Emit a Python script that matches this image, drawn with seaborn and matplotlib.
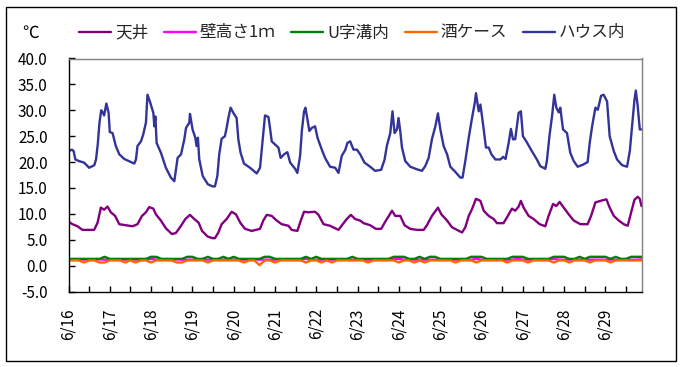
import matplotlib
matplotlib.use("Agg")
import matplotlib.pyplot as plt
import seaborn as sns
import pandas as pd
from matplotlib.patches import Rectangle
from matplotlib.ticker import FixedLocator, FuncFormatter

sns.set_theme(style="white")
plt.rcParams['font.family'] = ['Noto Sans CJK JP', 'DejaVu Sans']
plt.rcParams['axes.unicode_minus'] = False

# ---------------- data ----------------
SERIES_NAMES = ["天井", "壁高さ1ｍ", "U字溝内", "酒ケース", "ハウス内"]
SERIES_COLORS = ["#800080", "#FF00FF", "#008000", "#FF6600", "#333399"]
DAY_LABELS = ["6/16", "6/17", "6/18", "6/19", "6/20", "6/21", "6/22",
              "6/23", "6/24", "6/25", "6/26", "6/27", "6/28", "6/29"]

# ハウス内 (hours since 6/16 0:00, °C)
house_hours = [0, 2, 3, 4, 6, 9, 12, 15, 16, 17, 18, 19, 20, 20.7, 22, 23.3, 24, 25.6, 27.5, 29.5,
               32.4, 36.3, 38.2, 39.2, 40.1, 42.1, 43.4, 45, 45.9, 47.3, 49.3, 49.9, 50.5, 51.2, 53.7, 56.6,
               59.5, 61.5, 63.4, 65.4, 67.3, 68.3, 70.2, 70.6, 72.1, 73.7, 74.4, 75.2, 76, 78, 81, 83.8,
               85.1, 86.5, 87.6, 89, 90.9, 91.9, 92.9, 94.2, 95.8, 97.7, 98.7, 100, 102, 105.5, 109.4, 111.3,
               112.9, 114.2, 116.2, 117.1, 118.1, 120, 122, 123.3, 125.3, 127.2, 128.8, 131.7, 133, 134.6,
               135.6, 136.9, 137.7, 138.9, 140, 141.4, 143.3, 144.7, 147.2, 149.1, 152, 155, 156.9, 158.8,
               160.8, 162.1, 163.7, 165.6, 167.6, 169.5, 172, 175.3, 178.2, 181.7, 183.7, 185, 187, 188.3,
               189.5, 190.9, 191.8, 192.8, 193.8, 195.7, 198.6, 202.5, 205.4, 207.3, 209.3, 211.2, 213.2,
               214.7, 216.1, 218, 220, 221.9, 224.8, 227.7, 229, 230.6, 232.6, 234.5, 236.1, 236.8, 238.4,
               239.4, 241.3, 242.6, 244.2, 245.8, 248.1, 251, 252.6, 254, 255.8, 257.1, 258.3, 259.6, 261.6,
               262.9, 264.1, 266.4, 269.3, 272.2, 274.2, 277.1, 278, 279.6, 281, 282.3, 283.5, 284.9, 285.8,
               287.4, 289.7, 291.6, 293.6, 295.9, 299, 301.7, 302.9, 304.3, 306.2, 307.6, 309.5, 311, 313,
               314.5, 316.9, 318.8, 321.7, 324.6, 326.2, 327.5, 328.9, 329.7, 330.8, 332, 333]
house_temp = [22.1, 22.4, 22.1, 20.5, 20.2, 19.9, 18.9, 19.4, 20.5, 23.4, 27.6, 30.0, 29.5, 29.0, 31.3, 29.5, 25.8, 25.6, 23.1, 21.5,
              20.6, 20.0, 19.7, 20.5, 23.1, 24.0, 25.3, 27.6, 33.0, 31.7, 29.5, 26.9, 28.8, 23.7, 21.8, 18.9,
              17.0, 16.3, 20.8, 21.5, 24.4, 26.6, 27.6, 29.3, 26.3, 24.7, 23.1, 24.7, 20.5, 17.3, 15.7, 15.3,
              15.3, 17.3, 21.5, 24.5, 25.0, 26.6, 28.5, 30.5, 29.5, 28.5, 24.4, 21.8, 19.7, 18.9, 17.8, 18.9,
              24.4, 29.0, 28.7, 26.6, 24.0, 23.4, 22.8, 20.8, 21.5, 21.9, 19.9, 18.7, 17.9, 21.2,
              26.0, 29.8, 30.5, 28.2, 26.0, 26.6, 26.9, 24.7, 22.4, 20.8, 19.1, 18.9, 17.9, 21.2,
              22.3, 23.7, 24.0, 22.4, 22.4, 21.5, 19.9, 19.1, 18.3, 18.5, 20.5, 23.1, 25.6, 29.8,
              25.6, 26.3, 28.5, 26.0, 22.8, 20.2, 19.1, 18.6, 18.3, 19.2, 20.8, 24.4, 26.9,
              29.4, 26.3, 23.1, 21.5, 19.1, 18.1, 17.0, 17.0, 20.2, 24.7, 28.5, 31.4, 33.3, 29.8,
              31.1, 26.3, 22.8, 22.8, 21.5, 20.5, 20.5, 21.0, 20.6, 23.7, 26.4, 24.4, 24.4, 29.5,
              29.8, 25.0, 23.8, 22.1, 20.5, 19.2, 18.7, 20.2, 25.3, 28.8, 33.0, 30.5, 29.6, 30.5,
              26.3, 25.6, 21.8, 20.2, 19.1, 19.5, 20.0, 23.7, 26.9, 30.5, 30.1, 32.8, 33.0, 31.7,
              25.0, 22.1, 20.5, 19.4, 19.1, 22.1, 26.9, 32.0, 33.8, 30.8, 26.3, 26.3]

# 天井
ceil_hours = [0, 2.3, 5.2, 8.1, 14.9, 16.9, 18.8, 20.7, 22.7, 24.6, 27.1, 29.5, 33.3, 37.2, 40.1, 42.7, 45, 46.9,
              49.3, 50.8, 53.7, 56.6, 60.1, 62.4, 65.4, 67.9, 70.6, 73.1, 75.6, 77.6, 80.9, 83.8, 85.1, 87.1,
              89, 91.9, 94.8, 97.3, 100, 102.6, 106.5, 111.3, 113.2, 115.2, 118.1, 121, 123.9, 127.8, 129.7,
              133, 135, 136.9, 139.4, 143.3, 145.3, 148.2, 152, 156.9, 159.4, 161.7, 164.1, 166.6, 169.5,
              171.5, 175.3, 178.6, 181.7, 184.1, 186, 188, 189.9, 192.8, 195.3, 198.6, 202.5, 206.4, 208.3,
              211.2, 214.7, 216.7, 220, 222.9, 225.8, 228.7, 230.6, 232.6, 234.5, 236.8, 239.4, 241.3, 244.2,
              247.1, 249, 252.8, 254.8, 257.7, 259.6, 261.6, 262.9, 264.5, 267.4, 270.3, 273.8, 277.1, 279,
              281.6, 283.5, 285.4, 287.8, 290.7, 293.6, 297.5, 301.7, 303.7, 306.2, 309.1, 312.6, 314.5,
              316.9, 319.8, 322.7, 325, 327, 328.9, 330.8, 332, 333]
ceil_temp = [8.5, 8.0, 7.6, 6.9, 6.9, 8.3, 11.2, 10.8, 11.4, 10.3, 9.6, 8.0, 7.8, 7.6, 8.0, 9.6, 10.3, 11.3,
             11.0, 9.9, 8.7, 7.2, 6.1, 6.3, 7.7, 9.0, 9.8, 9.0, 8.3, 6.7, 5.6, 5.3, 5.3, 6.4,
             8.0, 9.0, 10.4, 9.9, 8.2, 7.1, 6.7, 7.1, 8.7, 9.8, 9.6, 8.7, 8.0, 7.7, 6.9,
             6.7, 8.7, 10.4, 10.3, 10.4, 9.8, 8.0, 7.7, 6.9, 8.0, 9.0, 9.8, 9.0, 8.7,
             8.2, 7.8, 7.1, 7.1, 8.5, 9.5, 10.6, 9.6, 9.6, 7.8, 7.1, 6.9, 6.9, 7.8,
             9.6, 11.2, 9.9, 8.7, 7.4, 6.9, 6.4, 7.4, 9.6, 10.9, 12.9, 12.5, 10.6, 9.6,
             9.0, 8.2, 8.2, 9.3, 11.0, 10.6, 11.4, 12.5, 11.2, 9.6, 9.0, 8.0, 7.6, 9.6,
             11.9, 11.5, 12.3, 11.2, 9.9, 8.7, 8.0, 8.0, 9.6, 12.2, 12.5, 12.8, 11.2,
             9.6, 8.7, 8.0, 7.7, 10.3, 12.7, 13.3, 12.9, 11.5]

# low series, every 3 hours from 6/16 0:00 to 6/29 21:00
low_hours = list(range(0, 334, 3))
wall_temp = [1.15, 1.15, 1.2, 1.15, 1.15, 1.15, 1.2, 1.15,
             1.15, 1.15, 1.15, 1.15, 1.2, 1.15, 1.15, 1.15,
             1.3, 1.15, 1.15, 1.15, 1.15, 1.2, 1.15, 1.15,
             1.15, 1.15, 1.15, 1.15, 1.15, 1.15, 1.15, 1.3,
             1.15, 1.15, 1.15, 1.15, 1.2, 1.15, 1.15, 1.15,
             1.15, 1.15, 1.15, 1.15, 1.15, 1.15, 1.3, 1.15,
             1.15, 1.15, 1.15, 1.15, 1.15, 1.15, 1.15, 1.15,
             1.15, 1.15, 1.15, 1.15, 1.15, 1.15, 1.15, 1.3,
             1.3, 1.15, 1.15, 1.15, 1.15, 1.15, 1.15, 1.15,
             1.15, 1.15, 1.15, 1.15, 1.15, 1.15, 1.15, 1.3,
             1.15, 1.15, 1.15, 1.15, 1.15, 1.15, 1.15, 1.3,
             1.15, 1.15, 1.15, 1.15, 1.15, 1.15, 1.3, 1.15,
             1.15, 1.15, 1.15, 1.15, 1.15, 1.15, 1.15, 1.15,
             1.15, 1.15, 1.15, 1.15, 1.3, 1.15, 1.15, 1.2]
ditch_temp = [1.3, 1.3, 1.3, 1.3, 1.3, 1.3, 1.3, 1.7,
              1.3, 1.3, 1.3, 1.3, 1.3, 1.3, 1.3, 1.3,
              1.7, 1.7, 1.3, 1.3, 1.3, 1.3, 1.3, 1.7,
              1.7, 1.3, 1.3, 1.7, 1.3, 1.3, 1.7, 1.3,
              1.7, 1.3, 1.3, 1.3, 1.3, 1.3, 1.7, 1.7,
              1.3, 1.3, 1.3, 1.3, 1.3, 1.3, 1.7, 1.3,
              1.7, 1.3, 1.3, 1.3, 1.3, 1.3, 1.3, 1.7,
              1.3, 1.3, 1.3, 1.3, 1.3, 1.3, 1.3, 1.7,
              1.7, 1.7, 1.3, 1.3, 1.7, 1.3, 1.7, 1.7,
              1.3, 1.3, 1.3, 1.3, 1.3, 1.3, 1.7, 1.7,
              1.7, 1.3, 1.3, 1.3, 1.3, 1.3, 1.7, 1.7,
              1.7, 1.3, 1.3, 1.3, 1.3, 1.3, 1.7, 1.7,
              1.7, 1.3, 1.3, 1.7, 1.3, 1.7, 1.7, 1.7,
              1.7, 1.3, 1.7, 1.3, 1.3, 1.7, 1.7, 1.7]
case_temp = [1.0, 1.0, 1.0, 0.6, 1.0, 1.0, 0.6, 0.6,
             1.0, 1.0, 1.0, 0.6, 1.0, 0.6, 1.0, 1.0,
             0.6, 1.0, 1.0, 1.0, 1.0, 0.6, 0.6, 1.0,
             1.0, 1.0, 1.0, 0.6, 1.0, 1.0, 1.0, 1.0,
             1.0, 1.0, 0.6, 1.0, 1.0, 0.1, 1.0, 1.0,
             0.6, 1.0, 1.0, 1.0, 1.0, 1.0, 0.6, 1.0,
             1.0, 0.6, 1.0, 0.6, 1.0, 1.0, 1.0, 1.0,
             1.0, 1.0, 0.6, 1.0, 1.0, 1.0, 1.0, 1.0,
             0.6, 1.0, 1.0, 0.6, 1.0, 0.6, 1.0, 1.0,
             1.0, 1.0, 1.0, 0.6, 1.0, 1.0, 1.0, 0.6,
             1.0, 1.0, 1.0, 1.0, 1.0, 0.6, 1.0, 1.0,
             1.0, 0.6, 1.0, 1.0, 1.0, 1.0, 0.6, 1.0,
             1.0, 0.6, 1.0, 1.0, 1.0, 0.6, 1.0, 1.0,
             1.0, 0.6, 1.0, 1.0, 1.0, 1.0, 1.0, 1.0]

Y_TICKS = [-5, 0, 5, 10, 15, 20, 25, 30, 35, 40]

# ---------------- figure ----------------
W, H = 681, 367
fig = plt.figure(figsize=(W / 100, H / 100), dpi=100)
fig.patch.set_facecolor("white")
ax = fig.add_axes([68.5 / W, 75.5 / H, 573 / W, 233 / H])
ax.set_facecolor("white")

series = [
    (ceil_hours, ceil_temp),
    (low_hours, wall_temp),
    (low_hours, ditch_temp),
    (low_hours, case_temp),
    (house_hours, house_temp),
]
for (hx, hy), name, col in zip(series, SERIES_NAMES, SERIES_COLORS):
    df = pd.DataFrame({"hour": hx, "temp": hy})
    sns.lineplot(data=df, x="hour", y="temp", ax=ax, color=col, linewidth=1.7,
                 label=name, estimator=None, sort=False)

ax.set_xlim(0, low_hours[-1])
ax.set_ylim(Y_TICKS[0], Y_TICKS[-1])
ax.set_xlabel("")
ax.set_ylabel("")

ax.yaxis.set_major_locator(FixedLocator(Y_TICKS))
ax.yaxis.set_major_formatter(FuncFormatter(lambda v, p: f"{v:.1f}"))
ax.xaxis.set_major_locator(FixedLocator([24 * i for i in range(len(DAY_LABELS))]))
ax.set_xticklabels(DAY_LABELS, rotation=90)
ax.xaxis.set_minor_locator(FixedLocator([24 * i + 12 for i in range(len(DAY_LABELS))]))

ax.tick_params(axis="y", which="major", direction="in", length=4, width=1, color="black",
               labelsize=11, pad=15, left=True, labelcolor="black")
ax.tick_params(axis="x", which="both", direction="in", length=4, width=1, color="black",
               labelsize=11, pad=12, bottom=True, labelcolor="black")
ax.grid(False)

for s in ["left", "bottom"]:
    ax.spines[s].set_color("black")
    ax.spines[s].set_linewidth(1.0)
for s in ["top", "right"]:
    ax.spines[s].set_color("#808080")
    ax.spines[s].set_linewidth(1.0)

handles, labels = ax.get_legend_handles_labels()
ax.get_legend().remove()
fig.legend(handles, labels, loc="center left", bbox_to_anchor=(79 / W, 1 - 33 / H),
           ncol=5, frameon=False, fontsize=12, handlelength=1.9, handletextpad=0.25,
           columnspacing=0.95, borderpad=0, borderaxespad=0)

fig.text(31 / W, 1 - 33 / H, "℃", fontsize=12, ha="center", va="center", color="black")

fig.patches.append(Rectangle((6 / W, 6 / H), 670 / W, 354 / H, transform=fig.transFigure,
                             fill=False, edgecolor="black", linewidth=1.0))

fig.savefig("out.png", dpi=100)
